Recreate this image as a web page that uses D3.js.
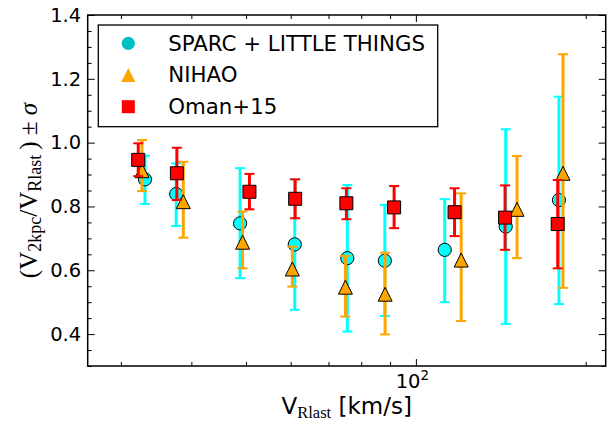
<!DOCTYPE html>
<html><head><meta charset="utf-8">
<script src="https://cdn.jsdelivr.net/npm/d3@7"></script>
<style>body{margin:0;background:#fff}</style>
</head><body>
<script>
// ---- data ----
const seriesNames = ["SPARC + LITTLE THINGS", "NIHAO", "Oman+15"];
const sparcV  = [33.1, 37.6, 48.8, 61.0, 75.6, 88.1, 112.5, 144.3, 179.3];
const sparcY  = [0.885, 0.839, 0.747, 0.681, 0.638, 0.630, 0.664, 0.737, 0.820];
const sparcLo = [0.808, 0.739, 0.575, 0.476, 0.408, 0.457, 0.500, 0.432, 0.494];
const sparcHi = [0.959, 0.935, 0.920, 0.885, 0.867, 0.805, 0.823, 1.042, 1.144];

const nihaoV  = [32.7, 38.7, 49.3, 60.4, 75.0, 88.2, 120.3, 151.1, 182.3];
const nihaoY  = [0.912, 0.815, 0.688, 0.604, 0.547, 0.525, 0.632, 0.791, 0.904];
const nihaoLo = [0.848, 0.702, 0.606, 0.549, 0.455, 0.399, 0.441, 0.638, 0.545];
const nihaoHi = [1.008, 0.940, 0.784, 0.674, 0.645, 0.655, 0.841, 0.958, 1.277];

const omanV   = [32.2, 37.7, 50.7, 61.1, 75.3, 91.5, 117.1, 143.9, 178.4];
const omanY   = [0.946, 0.904, 0.846, 0.824, 0.810, 0.797, 0.782, 0.765, 0.745];
const omanLo  = [0.895, 0.820, 0.791, 0.763, 0.760, 0.732, 0.707, 0.664, 0.606];
const omanHi  = [0.998, 0.984, 0.902, 0.885, 0.857, 0.864, 0.857, 0.866, 0.883];

const yMajor = [0.4, 0.6, 0.8, 1.0, 1.2, 1.4];
const yMinor = [0.3, 0.35, 0.45, 0.5, 0.55, 0.65, 0.7, 0.75, 0.85, 0.9, 0.95, 1.05, 1.1, 1.15, 1.25, 1.3, 1.35];
const xMajor = [100];
const xMinor = [30, 40, 50, 60, 70, 80, 90, 200];

// ---- layout ----
const W = 608, H = 425;
const L = 87.7, R = 605.7, T = 15, B = 366;
const svg = d3.select("body").append("svg").attr("width", W).attr("height", H)
  .style("font-family", "DejaVu Sans");

const x = d3.scaleLog().domain([26.2, 217]).range([L, R]);
const y = d3.scaleLinear().domain([0.3, 1.4]).range([B, T]);

const FS = 19.5;
function styleAxis(g){
  g.select(".domain").remove();
  g.selectAll(".tick line").attr("stroke", "#000").attr("stroke-width", 1);
  g.selectAll(".tick text").attr("font-size", FS).attr("font-family", "DejaVu Sans").attr("fill", "#000");
}
// left
svg.append("g").attr("transform", `translate(${L},0)`)
  .call(d3.axisLeft(y).tickValues(yMajor).tickFormat(d3.format(".1f")).tickSize(-7).tickPadding(6.5)).call(styleAxis);
svg.append("g").attr("transform", `translate(${L},0)`)
  .call(d3.axisLeft(y).tickValues(yMinor).tickFormat("").tickSize(-4)).call(styleAxis);
// right
svg.append("g").attr("transform", `translate(${R},0)`)
  .call(d3.axisRight(y).tickValues(yMajor).tickFormat("").tickSize(-7)).call(styleAxis);
svg.append("g").attr("transform", `translate(${R},0)`)
  .call(d3.axisRight(y).tickValues(yMinor).tickFormat("").tickSize(-4)).call(styleAxis);
// bottom
const gxb = svg.append("g").attr("transform", `translate(0,${B})`)
  .call(d3.axisBottom(x).tickValues(xMajor).tickFormat("").tickSize(-7).tickPadding(8)).call(styleAxis);
gxb.selectAll(".tick text").each(function(d){
  const t = d3.select(this).text("").attr("dy", "0.71em").attr("dx", -4);
  t.append("tspan").text("10");
  t.append("tspan").text(String(Math.round(Math.log10(d)))).attr("font-size", 13.5).attr("dy", "-0.55em");
});
svg.append("g").attr("transform", `translate(0,${B})`)
  .call(d3.axisBottom(x).tickValues(xMinor).tickFormat("").tickSize(-4)).call(styleAxis);
// top
svg.append("g").attr("transform", `translate(0,${T})`)
  .call(d3.axisTop(x).tickValues(xMajor).tickFormat("").tickSize(-7)).call(styleAxis);
svg.append("g").attr("transform", `translate(0,${T})`)
  .call(d3.axisTop(x).tickValues(xMinor).tickFormat("").tickSize(-4)).call(styleAxis);

// frame
svg.append("rect").attr("x", L).attr("y", T).attr("width", R - L).attr("height", B - T)
  .attr("fill", "none").attr("stroke", "#000").attr("stroke-width", 1.5);

// ---- series ----
const series = [
  {v: sparcV, m: sparcY, lo: sparcLo, hi: sparcHi, color: "#00FFFF", shape: "circle"},
  {v: nihaoV, m: nihaoY, lo: nihaoLo, hi: nihaoHi, color: "#FFA500", shape: "triangle"},
  {v: omanV,  m: omanY,  lo: omanLo,  hi: omanHi,  color: "#FF0000", shape: "square"}
];
function markerPath(shape, s){
  if (shape === "circle") return d3.symbol(d3.symbolCircle, Math.PI * s * s)();
  if (shape === "square") return `M${-s},${-s}H${s}V${s}H${-s}Z`;
  return `M0,${-s}L${s},${s}L${-s},${s}Z`;
}
const plot = svg.append("g");
series.forEach(S => {
  const g = plot.append("g");
  const idx = d3.range(S.v.length);
  const eb = g.selectAll("g.eb").data(idx).enter().append("g");
  eb.append("line").attr("x1", i => x(S.v[i])).attr("x2", i => x(S.v[i]))
    .attr("y1", i => y(S.lo[i])).attr("y2", i => y(S.hi[i]))
    .attr("stroke", S.color).attr("stroke-width", 3);
  [S.lo, S.hi].forEach(arr => {
    eb.append("line").attr("x1", i => x(S.v[i]) - 5).attr("x2", i => x(S.v[i]) + 5)
      .attr("y1", i => y(arr[i])).attr("y2", i => y(arr[i]))
      .attr("stroke", S.color).attr("stroke-width", 2);
  });
  const sz = S.shape === "circle" ? 6.6 : (S.shape === "square" ? 6.5 : 7);
  g.selectAll("path.mk").data(idx).enter().append("path")
    .attr("transform", i => `translate(${x(S.v[i])},${y(S.m[i])})`)
    .attr("d", markerPath(S.shape, sz))
    .attr("fill", S.color).attr("stroke", "#000").attr("stroke-width", 1);
});

// ---- legend ----
const lg = svg.append("g");
lg.append("rect").attr("x", 98.3).attr("y", 25).attr("width", 339.4).attr("height", 101.7)
  .attr("fill", "#fff").attr("stroke", "#000").attr("stroke-width", 1.3);
const legColors = ["#00BFBF", "#FFA500", "#FF0000"];
const legShapes = ["circle", "triangle", "square"];
seriesNames.forEach((name, i) => {
  const cy = 43.3 + i * 31.7;
  lg.append("path").attr("transform", `translate(128.3,${cy})`)
    .attr("d", markerPath(legShapes[i], legShapes[i] === "circle" ? 6.6 : (legShapes[i] === "square" ? 6.5 : 7)))
    .attr("fill", legColors[i]);
  lg.append("text").attr("x", 168.3).attr("y", cy + 7.3).attr("font-size", 21.3).text(name);
});

// ---- axis labels ----
const xl = svg.append("text").attr("x", (L + R) / 2).attr("y", 414).attr("text-anchor", "middle")
  .attr("font-size", 23).attr("font-family", "DejaVu Sans");
xl.append("tspan").text("V");
xl.append("tspan").text("Rlast").attr("font-family", "Liberation Serif").attr("font-size", 16.5).attr("dy", 4);
xl.append("tspan").text(" [km/s]").attr("dy", -4);

const yl = svg.append("text").attr("transform", `translate(37,${(T + B) / 2}) rotate(-90)`)
  .attr("text-anchor", "middle").attr("font-size", 25).attr("font-family", "Liberation Serif");
yl.append("tspan").text("(V");
yl.append("tspan").text("2kpc").attr("font-size", 18).attr("dy", 4);
yl.append("tspan").text("/V").attr("dy", -4);
yl.append("tspan").text("Rlast").attr("font-size", 18).attr("dy", 4);
yl.append("tspan").text("\u2009) ± ").attr("dy", -4);
yl.append("tspan").text("σ").attr("font-style", "italic");
</script>
</body></html>
